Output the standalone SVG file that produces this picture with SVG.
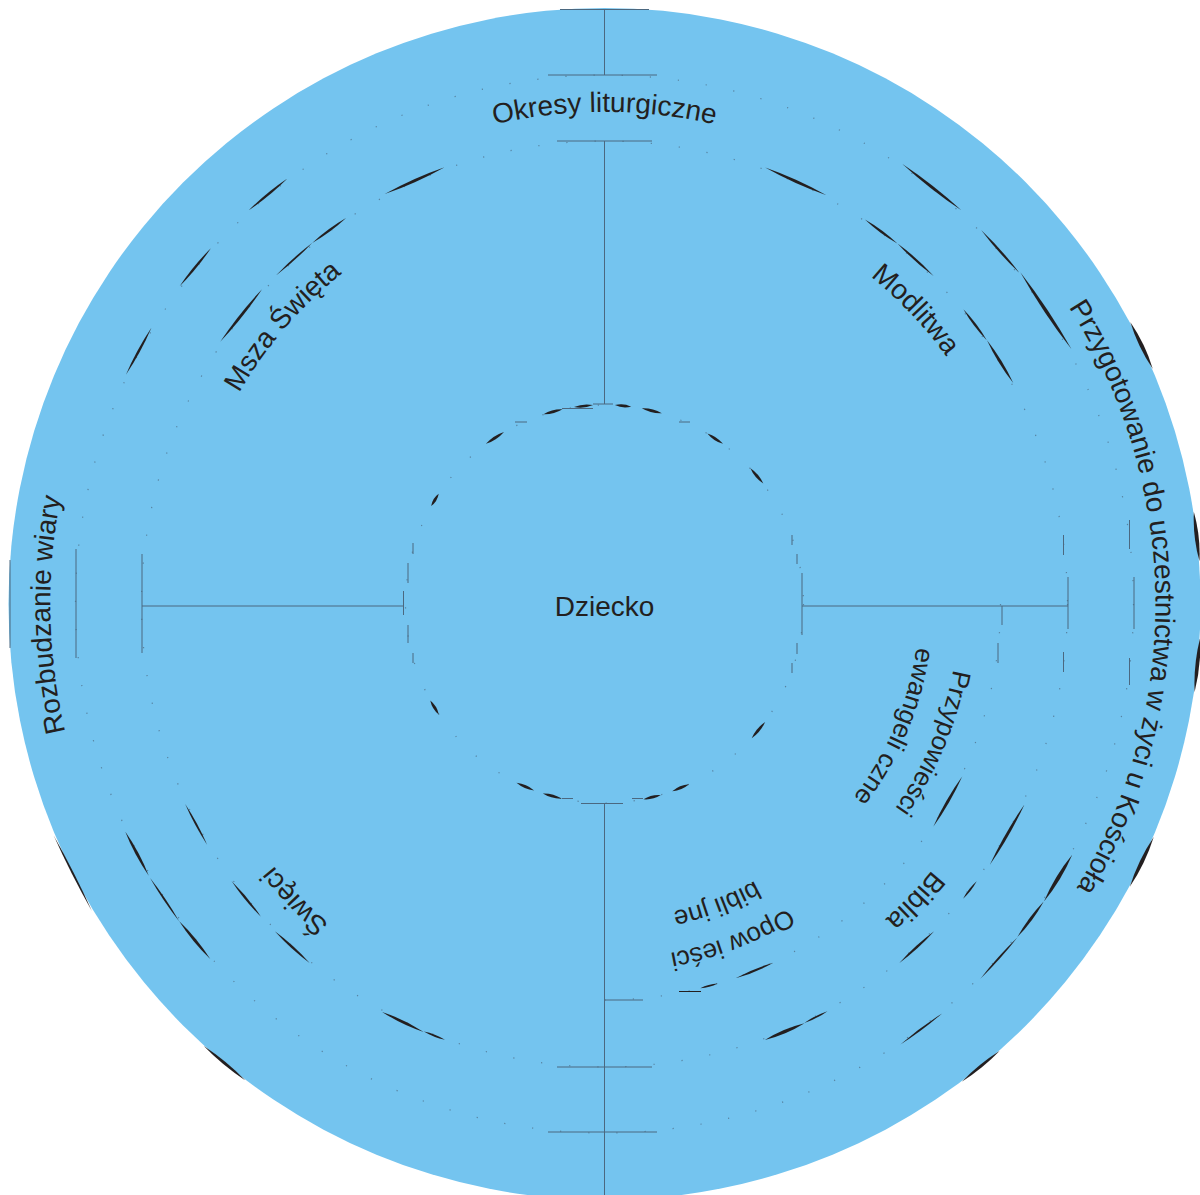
<svg xmlns="http://www.w3.org/2000/svg" width="1200" height="1195" viewBox="0 0 1200 1195">
<style>
.bg{fill:#74c4ef}
.ln{stroke:#4b6880;stroke-width:1;fill:none}
.dot{fill:none;stroke:#4b6880;stroke-width:1.2;stroke-dasharray:1.2 27;opacity:.7}
.sl{fill:#231f20}
.t{font-family:"Liberation Sans",Arial,Helvetica,sans-serif;font-size:28px;fill:#231f20}
.s{font-size:26px}
</style>
<defs>
<path id="lens" d="M0,-1 Q1,0 0,1 Q-1,0 0,-1Z"/>
<path id="p492" d="M112.5,604 A492,492 0 1 1 1096.5,604 A492,492 0 1 1 112.5,604"/>
<path id="p422" d="M182.5,604 A422,422 0 1 1 1026.5,604 A422,422 0 1 1 182.5,604"/>
<path id="p551" d="M53.5,604 A551,551 0 1 1 1155.5,604 A551,551 0 1 1 53.5,604"/>
<path id="p554" d="M604.5,1158 A554,554 0 1 1 604.5,50 A554,554 0 1 1 604.5,1158"/>
<path id="p355" d="M249.5,604 A355,355 0 1 1 959.5,604 A355,355 0 1 1 249.5,604"/>
<path id="p315" d="M289.5,604 A315,315 0 1 1 919.5,604 A315,315 0 1 1 289.5,604"/>
</defs>
<rect width="1200" height="1195" fill="#ffffff"/>
<g id="disc">
<circle class="bg" cx="604.5" cy="604" r="596"/>
<circle class="dot" cx="604.5" cy="604" r="199"/>
<circle class="dot" cx="604.5" cy="604" r="463"/>
<circle class="dot" cx="604.5" cy="604" r="529"/>
<path class="dot" d="M1000.5,604 A396,396 0 0 1 604.5,1000"/>
</g>
<g id="slivers" class="sl" transform="translate(604.5,604)">
<use href="#lens" transform="rotate(-148.45) translate(199,0) scale(3,7.2)"/>
<use href="#lens" transform="rotate(-123.4) translate(199,0) scale(3,10.8)"/>
<use href="#lens" transform="rotate(-105) translate(199,0) scale(3,9.8)"/>
<use href="#lens" transform="rotate(-96.05) translate(199,0) scale(3,9.6)"/>
<use href="#lens" transform="rotate(-84.65) translate(199,0) scale(3,8.2)"/>
<use href="#lens" transform="rotate(-76.25) translate(199,0) scale(3,10.3)"/>
<use href="#lens" transform="rotate(-56.2) translate(199,0) scale(3,9.4)"/>
<use href="#lens" transform="rotate(-40.05) translate(199,0) scale(3,10)"/>
<use href="#lens" transform="rotate(148.65) translate(199,0) scale(3,8.2)"/>
<use href="#lens" transform="rotate(113.45) translate(199,0) scale(3,9.6)"/>
<use href="#lens" transform="rotate(105.2) translate(199,0) scale(3,9.8)"/>
<use href="#lens" transform="rotate(39.35) translate(199,0) scale(3,10.6)"/>
<use href="#lens" transform="rotate(76.15) translate(199,0) scale(3,8.9)"/>
<use href="#lens" transform="rotate(67.5) translate(199,0) scale(3,9.1)"/>
<use href="#lens" transform="rotate(-114.15) translate(464,0) scale(3,32.8)"/>
<use href="#lens" transform="rotate(-132) translate(464,0) scale(2,24.3)"/>
<use href="#lens" transform="rotate(-126.4) translate(464,0) scale(2.5,21)"/>
<use href="#lens" transform="rotate(-141.55) translate(464,0) scale(3,33.6)"/>
<use href="#lens" transform="rotate(-65.65) translate(464,0) scale(3,33.6)"/>
<use href="#lens" transform="rotate(-53.4) translate(464,0) scale(2.5,20.2)"/>
<use href="#lens" transform="rotate(-47.9) translate(464,0) scale(2.5,24.3)"/>
<use href="#lens" transform="rotate(-37) translate(464,0) scale(2.5,19.4)"/>
<use href="#lens" transform="rotate(-31.5) translate(464,0) scale(3,25.1)"/>
<use href="#lens" transform="rotate(151.65) translate(464,0) scale(2,23.1)"/>
<use href="#lens" transform="rotate(140.55) translate(464,0) scale(2.5,23.1)"/>
<use href="#lens" transform="rotate(132.3) translate(464,0) scale(2.5,23.5)"/>
<use href="#lens" transform="rotate(115.75) translate(464,0) scale(3,23.1)"/>
<use href="#lens" transform="rotate(111.5) translate(464,0) scale(2,11.3)"/>
<use href="#lens" transform="rotate(29.8) translate(464,0) scale(3,34.8)"/>
<use href="#lens" transform="rotate(38.05) translate(464,0) scale(2,11)"/>
<use href="#lens" transform="rotate(47.7) translate(464,0) scale(2.5,23.5)"/>
<use href="#lens" transform="rotate(67.15) translate(464,0) scale(3.5,21.5)"/>
<use href="#lens" transform="rotate(62.9) translate(464,0) scale(2,13)"/>
<use href="#lens" transform="rotate(-129.4) translate(530,0) scale(2.5,25)"/>
<use href="#lens" transform="rotate(-140.55) translate(530,0) scale(2.5,24.6)"/>
<use href="#lens" transform="rotate(-151.5) translate(530,0) scale(2.5,26.9)"/>
<use href="#lens" transform="rotate(-51.85) translate(530,0) scale(3,37.5)"/>
<use href="#lens" transform="rotate(-41.7) translate(530,0) scale(2.5,28.7)"/>
<use href="#lens" transform="rotate(-33.6) translate(530,0) scale(3.5,46.3)"/>
<use href="#lens" transform="rotate(151.9) translate(530,0) scale(3,25)"/>
<use href="#lens" transform="rotate(146.1) translate(530,0) scale(2,26)"/>
<use href="#lens" transform="rotate(140.65) translate(530,0) scale(3,24.6)"/>
<use href="#lens" transform="rotate(36.5) translate(530,0) scale(3,22.2)"/>
<use href="#lens" transform="rotate(31.15) translate(530,0) scale(4,27.3)"/>
<use href="#lens" transform="rotate(41.9) translate(530,0) scale(2,27.8)"/>
<use href="#lens" transform="rotate(53.3) translate(530,0) scale(2,26)"/>
<use href="#lens" transform="rotate(29.9) translate(396,0) scale(3,29.1)"/>
<use href="#lens" transform="rotate(67.75) translate(396,0) scale(2.5,20.4)"/>
<use href="#lens" transform="rotate(74.7) translate(396,0) scale(2,9)"/>
<use href="#lens" transform="rotate(-25.7) translate(596,0) scale(4,26)"/>
<use href="#lens" transform="rotate(-6.5) translate(596,0) scale(4,25)"/>
<use href="#lens" transform="rotate(153.15) translate(596,0) scale(2,42)"/>
<use href="#lens" transform="rotate(129.6) translate(596,0) scale(3,27)"/>
<use href="#lens" transform="rotate(25.65) translate(596,0) scale(4,27.6)"/>
<use href="#lens" transform="rotate(5.85) translate(596,0) scale(4,27.6)"/>
<use href="#lens" transform="rotate(50.85) translate(596,0) scale(3,24.5)"/>
<line x1="74.5" y1="387.5" x2="96.5" y2="387.5" stroke="#231f20" stroke-width="1"/>
</g>
<g id="connectors" class="ln">
<line x1="604.5" y1="9" x2="604.5" y2="75"/>
<line x1="548" y1="75" x2="657" y2="75"/>
<line x1="557" y1="141" x2="652" y2="141"/>
<line x1="604.5" y1="141" x2="604.5" y2="404"/>
<line x1="560" y1="9.5" x2="649" y2="9.5"/>
<line x1="142" y1="606" x2="403" y2="606"/>
<line x1="76" y1="549" x2="76" y2="658"/>
<line x1="142" y1="554" x2="142" y2="653"/>
<line x1="10" y1="560" x2="10" y2="648"/>
<line x1="604.5" y1="803" x2="604.5" y2="1195"/>
<line x1="604.5" y1="1000" x2="643" y2="1000"/>
<line x1="557" y1="1067" x2="652" y2="1067"/>
<line x1="548" y1="1132" x2="657" y2="1132"/>
<line x1="802" y1="606" x2="1068" y2="606"/>
<line x1="1002" y1="606" x2="1002" y2="625"/>
<line x1="998" y1="643" x2="998" y2="663"/>
<line x1="1068" y1="577" x2="1068" y2="629"/>
<line x1="1063.5" y1="535" x2="1063.5" y2="555"/>
<line x1="1063.5" y1="652" x2="1063.5" y2="672"/>
<line x1="1134" y1="577" x2="1134" y2="629"/>
<line x1="1129.5" y1="520" x2="1129.5" y2="549"/>
<line x1="1129.5" y1="658" x2="1129.5" y2="685"/>
<line x1="403.5" y1="591" x2="403.5" y2="615"/>
<line x1="408" y1="563" x2="408" y2="583"/>
<line x1="408" y1="625" x2="408" y2="643"/>
<line x1="413" y1="543" x2="413" y2="554"/>
<line x1="413" y1="653" x2="413" y2="663"/>
<line x1="802" y1="573" x2="802" y2="635"/>
<line x1="797" y1="554" x2="797" y2="564"/>
<line x1="797" y1="643" x2="797" y2="654"/>
<line x1="792" y1="535" x2="792" y2="545"/>
<line x1="792" y1="663" x2="792" y2="673"/>
<line x1="593" y1="404" x2="613" y2="404"/>
<line x1="562" y1="408.5" x2="593" y2="408.5"/>
<line x1="515" y1="422" x2="527" y2="422"/>
<line x1="679" y1="422" x2="690" y2="422"/>
<line x1="581" y1="803.5" x2="623" y2="803.5"/>
<line x1="562" y1="798.5" x2="573" y2="798.5"/>
<line x1="632" y1="798.5" x2="643" y2="798.5"/>
</g>
<g id="node-dziecko"><text class="t" x="604.5" y="616" text-anchor="middle">Dziecko</text></g>
<g id="node-okresy"><text class="t" text-anchor="middle"><textPath href="#p492" startOffset="25%">Okresy liturgiczne</textPath></text></g>
<g id="node-msza"><text class="t" text-anchor="middle"><textPath href="#p422" startOffset="11.33%">Msza Święta</textPath></text></g>
<g id="node-modlitwa"><text class="t" text-anchor="middle"><textPath href="#p422" startOffset="37.94%">Modlitwa</textPath></text></g>
<g id="node-swieci"><text class="t" text-anchor="middle"><textPath href="#p422" startOffset="87.83%">Święci</textPath></text></g>
<g id="node-biblia"><text class="t" text-anchor="middle"><textPath href="#p422" startOffset="62.14%">Biblia</textPath></text></g>
<g id="node-przygotowanie"><text class="t" text-anchor="middle"><textPath href="#p551" startOffset="49.78%">Przygotowanie do uczestnictwa w życi u Kościoła</textPath></text></g>
<g id="node-rozbudzanie"><text class="t" text-anchor="middle"><textPath href="#p554" startOffset="24.69%">Rozbudzanie wiary</textPath></text></g>
<g id="node-przypowiesci"><text class="t s" text-anchor="middle"><textPath href="#p355" startOffset="56.36%">Przypowieści</textPath></text><text class="t s" text-anchor="middle"><textPath href="#p315" startOffset="56.36%">ewangeli czne</textPath></text></g>
<g id="node-opowiesci"><text class="t s" text-anchor="middle"><textPath href="#p355" startOffset="69.2%">Opow ieści</textPath></text><text class="t s" text-anchor="middle"><textPath href="#p315" startOffset="69.3%">bibli jne</textPath></text></g>
</svg>
